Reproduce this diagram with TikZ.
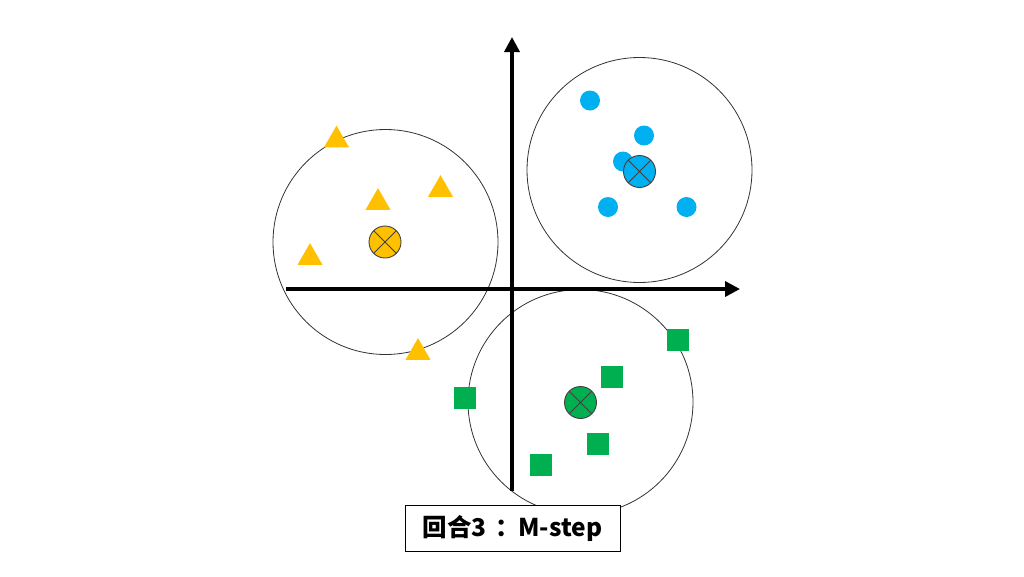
\documentclass[tikz,border=0pt]{standalone}
\usepackage{fontspec}
\setmainfont{Noto Sans CJK SC}
\usetikzlibrary{shapes.geometric,arrows.meta}
\definecolor{cyel}{HTML}{FFC000}
\definecolor{cblue}{HTML}{00B0F0}
\definecolor{cgreen}{HTML}{00B050}
\tikzset{
  axis/.style={line width=3.5pt,-{Triangle[length=15pt,width=15pt]}},
  cluster/.style={circle,draw=black!80,line width=0.8pt,minimum size=225pt,inner sep=0pt},
  tri/.style={regular polygon,regular polygon sides=3,fill=cyel,minimum size=28.9pt,inner sep=0pt,outer sep=0pt},
  dot/.style={circle,fill=cblue,minimum size=20pt,inner sep=0pt},
  sq/.style={rectangle,fill=cgreen,minimum size=22pt,inner sep=0pt},
  centroid/.style={circle,draw=black!75,line width=0.9pt,fill=#1,minimum size=32pt,inner sep=0pt,
    path picture={\draw[black!75,line width=0.8pt]
      (path picture bounding box.north west)--(path picture bounding box.south east)
      (path picture bounding box.north east)--(path picture bounding box.south west);}},
  labelbox/.style={draw=black,line width=1pt,fill=white,minimum width=215pt,minimum height=46.5pt,inner sep=0pt,font=\fontsize{24.5}{28}\selectfont\bfseries}
}
\begin{document}
\begin{tikzpicture}[x=1pt,y=-1pt]
\useasboundingbox (0,0) rectangle (1024,576);
% cluster circles
\node[cluster] (cy) at (385.5,242) {};
\node[cluster] (cb) at (639.5,170) {};
\node[cluster] (cg) at (580.5,402) {};
% axes
\coordinate (xs) at (286,289);
\coordinate (xe) at (740,289);
\coordinate (ys) at (512,491);
\coordinate (ye) at (512,37);
\draw[axis] (xs) -- (xe);
\draw[axis] (ys) -- (ye);
% yellow triangles
\node[tri] (t1) at (336.5,140.1) {};
\node[tri] (t2) at (378,202.6) {};
\node[tri] (t3) at (440.5,189.6) {};
\node[tri] (t4) at (310,257.6) {};
\node[tri] (t5) at (418,352.6) {};
% blue dots
\node[dot] (d1) at (590,100.5) {};
\node[dot] (d2) at (644,135.5) {};
\node[dot] (d3) at (623,161.5) {};
\node[dot] (d4) at (608,207) {};
\node[dot] (d5) at (686.5,207) {};
% green squares
\node[sq] (s1) at (678,340) {};
\node[sq] (s2) at (611.5,377) {};
\node[sq] (s3) at (465,398) {};
\node[sq] (s4) at (598,444) {};
\node[sq] (s5) at (541,465) {};
% centroids
\node[centroid=cyel] (my) at (385,242) {};
\node[centroid=cblue] (mb) at (639.5,171.5) {};
\node[centroid=cgreen] (mg) at (580.5,402.5) {};
% label
\node[labelbox] (lab) at (512.5,528.5) {回合3\kern0.35em：\kern-0.05em M-step};
\end{tikzpicture}
\end{document}
